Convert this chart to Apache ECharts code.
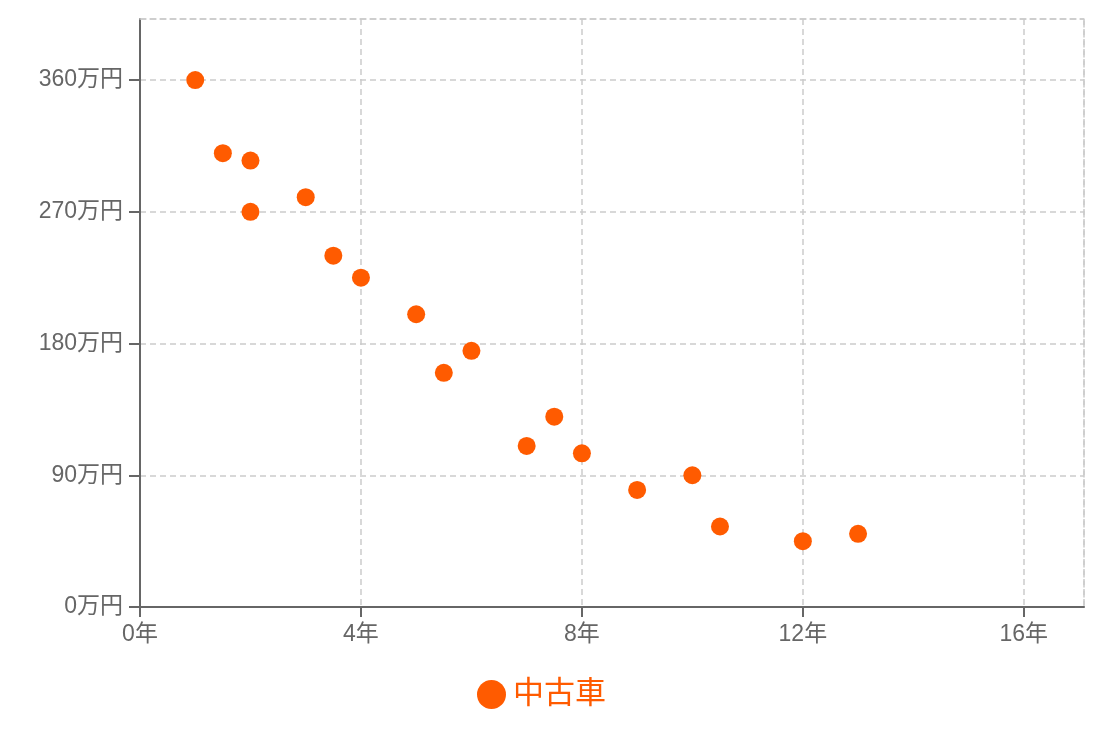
<!DOCTYPE html>
<html><head><meta charset="utf-8">
<script src="https://cdn.jsdelivr.net/npm/echarts@6/dist/echarts.min.js"></script>
<style>html,body{margin:0;padding:0;background:#fff}#c{width:1106px;height:736px}</style>
</head><body><div id="c"></div>
<script>
const seriesName = '中古車';
const ages = [1, 1.5, 2, 2, 3, 3.5, 4, 5, 5.5, 6, 7, 7.5, 8, 9, 10, 10.5, 12, 13];
const prices = [360, 310, 305, 270, 280, 240, 225, 200, 160, 175, 110, 130, 105, 80, 90, 55, 45, 50];
const xTicks = [0, 4, 8, 12, 16];
const yTicks = [0, 90, 180, 270, 360];

const font = "'Liberation Sans', 'Noto Sans CJK JP', sans-serif";
const orange = '#ff5b00';
const chart = echarts.init(document.getElementById('c'));
const data = ages.map((a, i) => [a, prices[i]]);
chart.setOption({
  animation: false,
  textStyle: { fontFamily: font },
  grid: { left: 140, right: 22, top: 19, bottom: 129, containLabel: false },
  legend: {
    top: 674, left: 472, icon: 'circle', itemWidth: 29, itemHeight: 29, itemGap: 10,
    textStyle: { color: orange, fontSize: 31, fontFamily: font, padding: [0, 0, 0, 2] },
    data: [seriesName]
  },
  xAxis: [{
    type: 'value', min: 0, max: 17.09, interval: 4,
    axisLine: { show: true, lineStyle: { color: '#666', width: 2 } },
    axisTick: { show: true, length: 10, lineStyle: { color: '#666', width: 2 } },
    axisLabel: { color: '#666', fontSize: 23, margin: 16, formatter: v => xTicks.includes(v) ? v + '年' : '', showMaxLabel: false },
    splitLine: { show: true, lineStyle: { color: '#ccc', type: [6, 4], width: 1.5 } }
  }, {
    type: 'value', position: 'top', min: 0, max: 17.09, interval: 4,
    axisLine: { show: true, onZero: false, lineStyle: { color: '#ccc', type: [6, 4], width: 1.5 } },
    axisTick: { show: false }, axisLabel: { show: false }, splitLine: { show: false }
  }],
  yAxis: [{
    type: 'value', min: 0, max: 401.7, interval: 90,
    axisLine: { show: true, lineStyle: { color: '#666', width: 2 } },
    axisTick: { show: true, length: 11, lineStyle: { color: '#666', width: 2 } },
    axisLabel: { color: '#666', fontSize: 23, margin: 17, padding: [4, 0, 0, 0], formatter: v => yTicks.includes(v) ? v + '万円' : '', showMaxLabel: false },
    splitLine: { show: true, lineStyle: { color: '#ccc', type: [6, 4], width: 1.5 } }
  }, {
    type: 'value', position: 'right', min: 0, max: 401.7, interval: 90,
    axisLine: { show: true, onZero: false, lineStyle: { color: '#ccc', type: [6, 4], width: 1.5 } },
    axisTick: { show: false }, axisLabel: { show: false }, splitLine: { show: false }
  }],
  series: [{
    name: seriesName, type: 'scatter', symbol: 'circle', symbolSize: 18,
    itemStyle: { color: orange, opacity: 1 },
    data: data
  }]
});
</script></body></html>
